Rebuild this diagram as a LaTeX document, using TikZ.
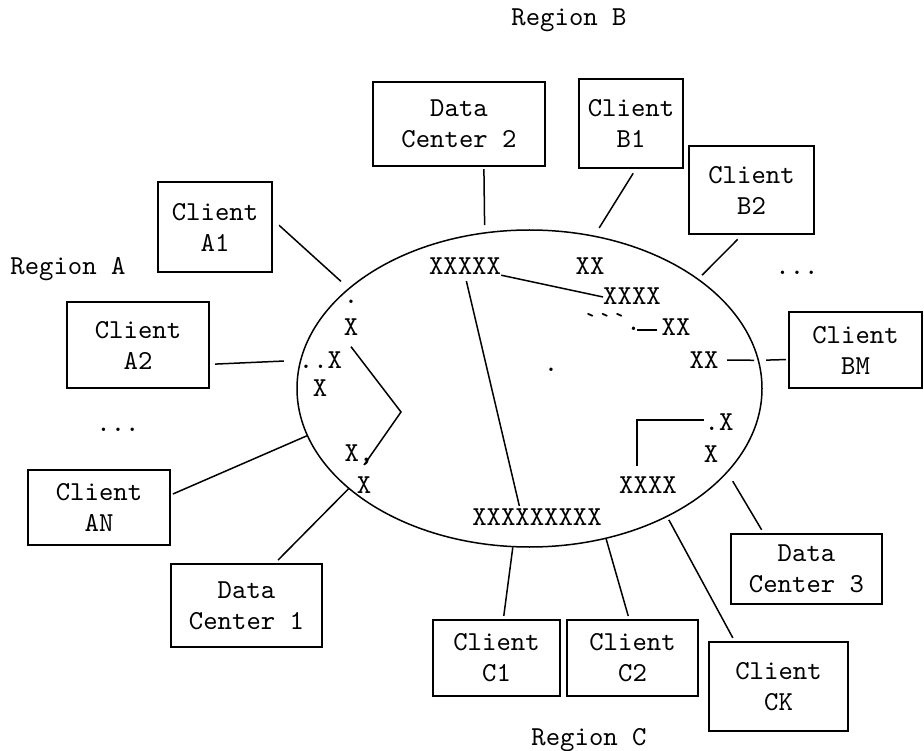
\documentclass[tikz,border=0pt]{standalone}
\usepackage{fontspec}
\newfontfamily\diagmono{lmmono10-regular}[Extension=.otf]
\usetikzlibrary{shapes.geometric}
\begin{document}
\begin{tikzpicture}[x=1pt,y=-1pt,
  every node/.style={font={\diagmono\fontsize{27.4}{31}\selectfont}, text=black},
  box/.style={draw, line width=2.2pt, align=center, inner sep=0pt},
  wire/.style={line width=1.5pt},
  xmark/.style={inner sep=0pt, text height=16pt, text depth=0pt}]

\fill[white] (0,0) rectangle (924,751);
\useasboundingbox (0,0) rectangle (924,751);

% the shared network ring
\node[draw, ellipse, line width=1.5pt, minimum width=465pt, minimum height=317pt,
      inner sep=0pt] (ring) at (529.5,388.5) {};

% region captions and elisions
\node[xmark] (rega) at (68,267) {Region A};
\node[xmark] (regb) at (569,18) {Region B};
\node[xmark] (regc) at (589,737) {Region C};
\node[xmark] (moreA) at (118,423) {...};
\node[xmark] (moreB) at (797,267) {...};

% clients and data centers
\node[box, minimum width=114pt, minimum height=90pt] (a1) at (215,227) {Client\\A1};
\node[box, minimum width=142pt, minimum height=86pt] (a2) at (138,345) {Client\\A2};
\node[box, minimum width=142pt, minimum height=75pt] (an) at (99,507.5) {Client\\AN};
\node[box, minimum width=151pt, minimum height=83pt] (dc1) at (246.5,605.5) {Data\\Center 1};
\node[box, minimum width=172pt, minimum height=84pt] (dc2) at (459,124) {Data\\Center 2};
\node[box, minimum width=104pt, minimum height=89pt] (b1) at (631,123.5) {Client\\B1};
\node[box, minimum width=125pt, minimum height=88pt] (b2) at (751.5,190) {Client\\B2};
\node[box, minimum width=133pt, minimum height=76pt] (bm) at (855.5,350) {Client\\BM};
\node[box, minimum width=151pt, minimum height=70pt] (dc3) at (806.5,569) {Data\\Center 3};
\node[box, minimum width=127pt, minimum height=76pt] (c1) at (496.5,658) {Client\\C1};
\node[box, minimum width=131pt, minimum height=76pt] (c2) at (632.5,658) {Client\\C2};
\node[box, minimum width=139pt, minimum height=89pt] (ck) at (778.5,686.5) {Client\\CK};

% node markers on the ring
\node[xmark] (x5)  at (465,267) {XXXXX};
\node[xmark] (x2a) at (590,267) {XX};
\node[xmark] (x4a) at (632,297) {XXXX};
\node[xmark] (ticks) at (612,322.5) {```.};
\node[xmark] (x2b) at (676,328) {XX};
\node[xmark] (x2c) at (704,360) {XX};
\node[xmark] (dotx) at (719,422) {.X};
\node[xmark] (x1r) at (711,454) {X};
\node[xmark] (x4b) at (648,485) {XXXX};
\node[xmark] (x9)  at (537,517) {XXXXXXXXX};
\node[xmark] (mid) at (551,364) {.};
\node[xmark] (dotl) at (351,296) {.};
\node[xmark] (xl1) at (351,328) {X};
\node[xmark] (ddx) at (320.5,360) {..X};
\node[xmark] (xl2) at (320,388) {X};
\node[xmark] (xcomma) at (359,453) {X,};
\node[xmark] (xl3) at (364,485) {X};

% links from clients and data centers to the ring
\draw[wire, shorten <=8pt, shorten >=10pt] (a1.7.6) -- (ring.151.6);
\draw[wire, shorten <=5pt, shorten >=16pt] (a2.-15) -- (ring.173.9);
\draw[wire, shorten <=2pt] (an.10.9) -- (ring.192.3);
\draw[wire, shorten <=4pt] (dc1.56.6) -- (ring.209.5);
\draw[wire, shorten <=2pt, shorten >=7pt] (dc2.-60.3) -- (ring.106.7);
\draw[wire, shorten <=5pt, shorten >=9pt] (b1.-84.1) -- (ring.67.75);
\draw[wire, shorten <=6pt, shorten >=5pt] (b2.-102.2) -- (ring.33.2);
\draw[wire, shorten <=2pt, shorten >=7pt] (bm.188.55) -- (ring.7.1);
\draw[wire, shorten <=8.6pt, shorten >=5pt] (x2c.east) -- (ring.7.1);
\draw[wire, shorten <=3.6pt, shorten >=10pt] (dc3.140.5) -- (ring.-23.9);
\draw[wire, shorten <=3.4pt, shorten >=3.3pt] (ck.134.5) -- (ring.-43.4);
\draw[wire, shorten <=3pt] (c2.95.4) -- (ring.-63.86);
\draw[wire, shorten <=3pt] (c1.80.9) -- (ring.-96.3);

% chords inside the ring
\draw[wire] (x5.south east) -- (x4a.west);
\draw[wire, shorten <=6pt, shorten >=3pt] (x5.south) -- ([xshift=-17pt]x9.north);
\draw[wire, shorten <=4.6pt] ([yshift=-2pt]x2b.west) -- ++(-24.6,0);
\coordinate (bend) at (401,412);
\coordinate (angend) at (364,465);
\draw[wire] ([yshift=-10.5pt]xl1.south) -- (bend) -- (angend);
\draw[wire] ([xshift=-11pt,yshift=11pt]x4b.north) |- ([yshift=2pt]dotx.west);

\end{tikzpicture}
\end{document}
